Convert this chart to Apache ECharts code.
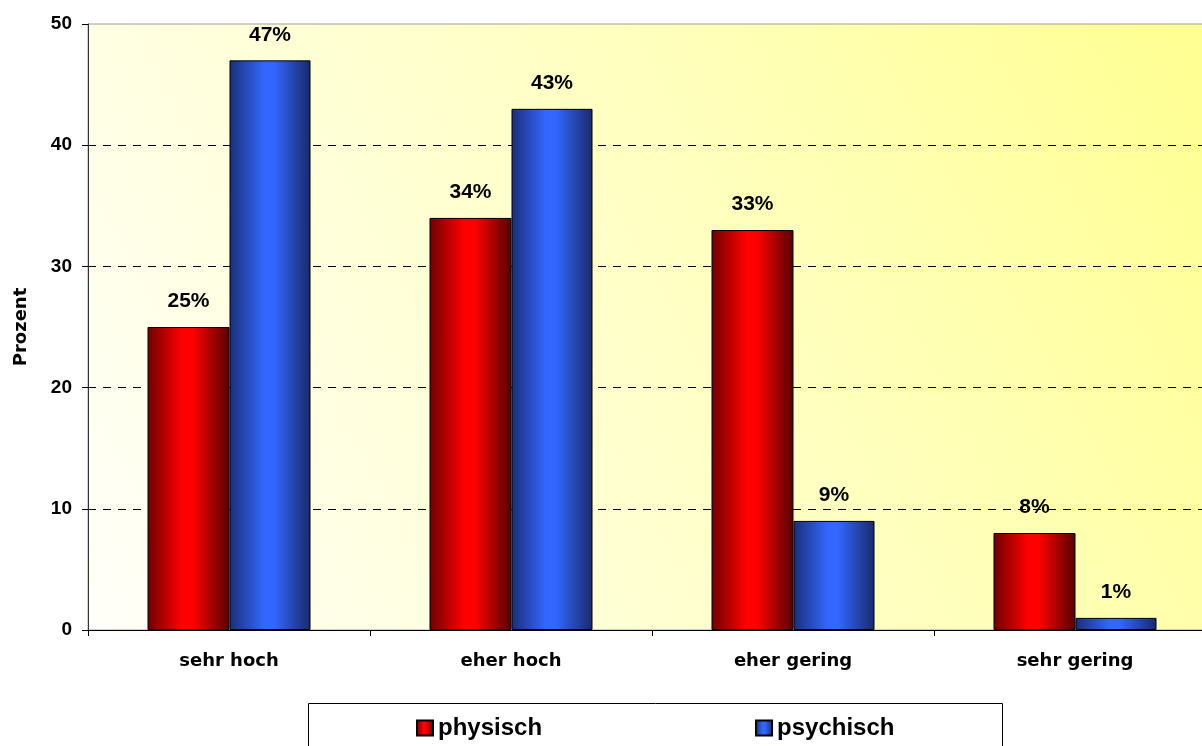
<!DOCTYPE html>
<html>
<head>
<meta charset="utf-8">
<script src="https://cdn.jsdelivr.net/npm/echarts@6/dist/echarts.min.js"></script>
<style>
  html, body { margin: 0; padding: 0; background: #ffffff; overflow: hidden; }
  #chart { width: 1220px; height: 746px; }
</style>
</head>
<body>
<div id="chart"></div>
<script>
// Belastung nach Art (Prozent)
const categories = ['sehr hoch', 'eher hoch', 'eher gering', 'sehr gering'];
const physisch = [25, 34, 33, 8];
const psychisch = [47, 43, 9, 1];
const seriesNames = ['physisch', 'psychisch'];
const yTicks = [0, 10, 20, 30, 40, 50];

function barGradient(edgeL, mid, edgeR) {
  return {
    type: 'linear', x: 0, y: 0, x2: 1, y2: 0,
    colorStops: [
      { offset: 0, color: edgeL },
      { offset: 0.42, color: mid },
      { offset: 0.55, color: mid },
      { offset: 1, color: edgeR }
    ]
  };
}

const redFill = barGradient('#6e0000', '#ff0000', '#560000');
const blueFill = barGradient('#1b2f78', '#3366ff', '#182a6a');

const labelStyle = {
  show: true,
  position: 'top',
  distance: 15,
  formatter: '{c}%',
  fontFamily: 'Liberation Sans, Arial, sans-serif',
  fontWeight: 'bold',
  fontSize: 21,
  color: '#000000'
};

const chart = echarts.init(document.getElementById('chart'));
chart.setOption({
  animation: false,
  backgroundColor: '#ffffff',
  grid: {
    left: 88, top: 24, width: 1128, height: 606,
    show: true,
    borderWidth: 1,
    borderColor: '#a0a0a0',
    backgroundColor: {
      type: 'linear', x: 0, y: 1, x2: 1, y2: 0,
      colorStops: [
        { offset: 0, color: '#fffffa' },
        { offset: 0.3, color: '#ffffdc' },
        { offset: 0.65, color: '#ffffb8' },
        { offset: 1, color: '#ffff90' }
      ]
    }
  },
  legend: {
    data: seriesNames,
    left: 416, top: 716,
    padding: 0,
    itemWidth: 16, itemHeight: 15,
    itemGap: 213,
    icon: 'rect',
    textStyle: {
      fontFamily: 'Liberation Sans, Arial, sans-serif',
      fontWeight: 'bold',
      fontSize: 24,
      color: '#000000'
    }
  },
  graphic: [{
    type: 'rect',
    shape: { x: 308.5, y: 703.5, width: 694, height: 60 },
    style: { fill: 'none', stroke: '#000000', lineWidth: 1 },
    z: 0
  }],
  xAxis: {
    type: 'category',
    data: categories,
    axisLine: { lineStyle: { color: '#000000', width: 1 } },
    axisTick: { show: true, length: 6, lineStyle: { color: '#000000' } },
    axisLabel: {
      margin: 22,
      fontFamily: 'DejaVu Sans, sans-serif',
      fontWeight: 'bold',
      fontSize: 18,
      color: '#000000'
    }
  },
  yAxis: {
    type: 'value',
    min: yTicks[0],
    max: yTicks[yTicks.length - 1],
    interval: yTicks[1] - yTicks[0],
    name: 'Prozent',
    nameLocation: 'middle',
    nameGap: 58,
    nameTextStyle: {
      fontFamily: 'DejaVu Sans, sans-serif',
      fontWeight: 'bold',
      fontSize: 18,
      color: '#000000'
    },
    axisLine: { show: true, lineStyle: { color: '#333333', width: 1 } },
    axisTick: { show: true, length: 6, lineStyle: { color: '#000000' } },
    axisLabel: {
      margin: 16,
      fontFamily: 'Liberation Sans, Arial, sans-serif',
      fontWeight: 'bold',
      fontSize: 19,
      color: '#000000'
    },
    splitLine: {
      show: true,
      showMinLine: false,
      showMaxLine: false,
      lineStyle: { color: '#000000', type: [8, 7], width: 1 }
    }
  },
  series: [
    {
      name: seriesNames[0],
      type: 'bar',
      data: physisch,
      barWidth: 82,
      barGap: '0%',
      itemStyle: { color: redFill, borderColor: '#000000', borderWidth: 1 },
      label: labelStyle
    },
    {
      name: seriesNames[1],
      type: 'bar',
      data: psychisch,
      barWidth: 81,
      barGap: '0%',
      itemStyle: { color: blueFill, borderColor: '#000000', borderWidth: 1 },
      label: labelStyle
    }
  ]
});
</script>
</body>
</html>
